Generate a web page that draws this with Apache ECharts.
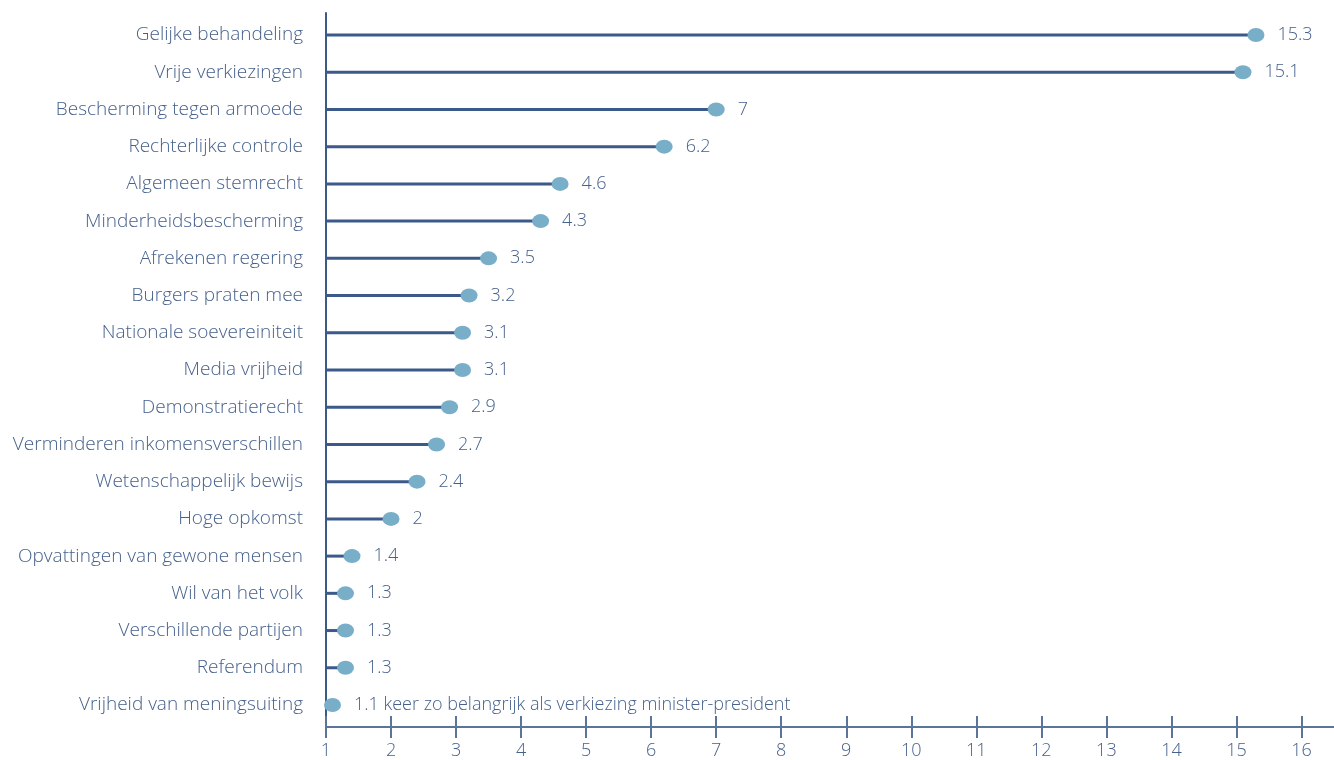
<!DOCTYPE html>
<html><head><meta charset="utf-8">
<script src="https://cdn.jsdelivr.net/npm/echarts@6/dist/echarts.min.js"></script>
<style>html,body{margin:0;padding:0;background:#fff}#c{width:1334px;height:760px}</style>
</head><body><div id="c"></div>
<script>
const categories = ["Gelijke behandeling","Vrije verkiezingen","Bescherming tegen armoede","Rechterlijke controle","Algemeen stemrecht","Minderheidsbescherming","Afrekenen regering","Burgers praten mee","Nationale soevereiniteit","Media vrijheid","Demonstratierecht","Verminderen inkomensverschillen","Wetenschappelijk bewijs","Hoge opkomst","Opvattingen van gewone mensen","Wil van het volk","Verschillende partijen","Referendum","Vrijheid van meningsuiting"];
const values = [15.3,15.1,7,6.2,4.6,4.3,3.5,3.2,3.1,3.1,2.9,2.7,2.4,2,1.4,1.3,1.3,1.3,1.1];
const valueLabels = ["15.3","15.1","7","6.2","4.6","4.3","3.5","3.2","3.1","3.1","2.9","2.7","2.4","2","1.4","1.3","1.3","1.3","1.1 keer zo belangrijk als verkiezing minister-president"];
const xTicks = [1,2,3,4,5,6,7,8,9,10,11,12,13,14,15,16];

const FONT = '"Open Sans"';
const TXT = '#46618c';
const LINE = '#3b5a8a';
const AX = '#5b7499';
const DOT = '#79aec9';

const chart = echarts.init(document.getElementById('c'), null, {renderer:'canvas'});
chart.setOption({
  animation:false,
  grid:[
    {left:326, right:0, top:16.4, bottom:36.4},
    {left:326, right:0, top:13, bottom:33}
  ],
  xAxis:[
    {gridIndex:0, type:'value', min:1, max:16.5, show:false},
    {gridIndex:1, type:'value', position:'bottom', min:1, max:16.5, interval:1,
      axisLine:{show:true, lineStyle:{color:AX, width:2}},
      axisTick:{show:true, inside:false, length:11, customValues:xTicks, lineStyle:{color:AX, width:2}},
      axisLabel:{show:true, customValues:xTicks, color:TXT, fontFamily:FONT, fontWeight:300, fontSize:18, margin:15},
      splitLine:{show:false}},
    {gridIndex:1, type:'value', position:'bottom', min:1, max:16.5, interval:1,
      axisLine:{show:false},
      axisTick:{show:true, inside:true, length:11, customValues:xTicks, lineStyle:{color:AX, width:2}},
      axisLabel:{show:false}, splitLine:{show:false}}
  ],
  yAxis:[
    {gridIndex:0, type:'category', data:categories, inverse:true,
      axisLine:{show:false}, axisTick:{show:false},
      axisLabel:{color:TXT, fontFamily:FONT, fontWeight:300, fontSize:19, margin:23, padding:[4,0,0,0]}},
    {gridIndex:1, type:'value', min:0, max:1,
      axisLine:{show:true, lineStyle:{color:LINE, width:2}},
      axisTick:{show:false}, axisLabel:{show:false}, splitLine:{show:false}}
  ],
  series:[
    {type:'bar', xAxisIndex:0, yAxisIndex:0, data:values, barWidth:3,
      itemStyle:{color:LINE}, silent:true},
    {type:'scatter', xAxisIndex:0, yAxisIndex:0, data:values, symbol:'circle', symbolSize:[17,14],
      itemStyle:{color:DOT, opacity:1}, z:5,
      label:{show:true, position:'right', distance:13, color:TXT, fontFamily:FONT, fontWeight:300, fontSize:18,
        padding:[4,0,0,0], formatter:p=>valueLabels[p.dataIndex]}}
  ]
});
</script></body></html>
